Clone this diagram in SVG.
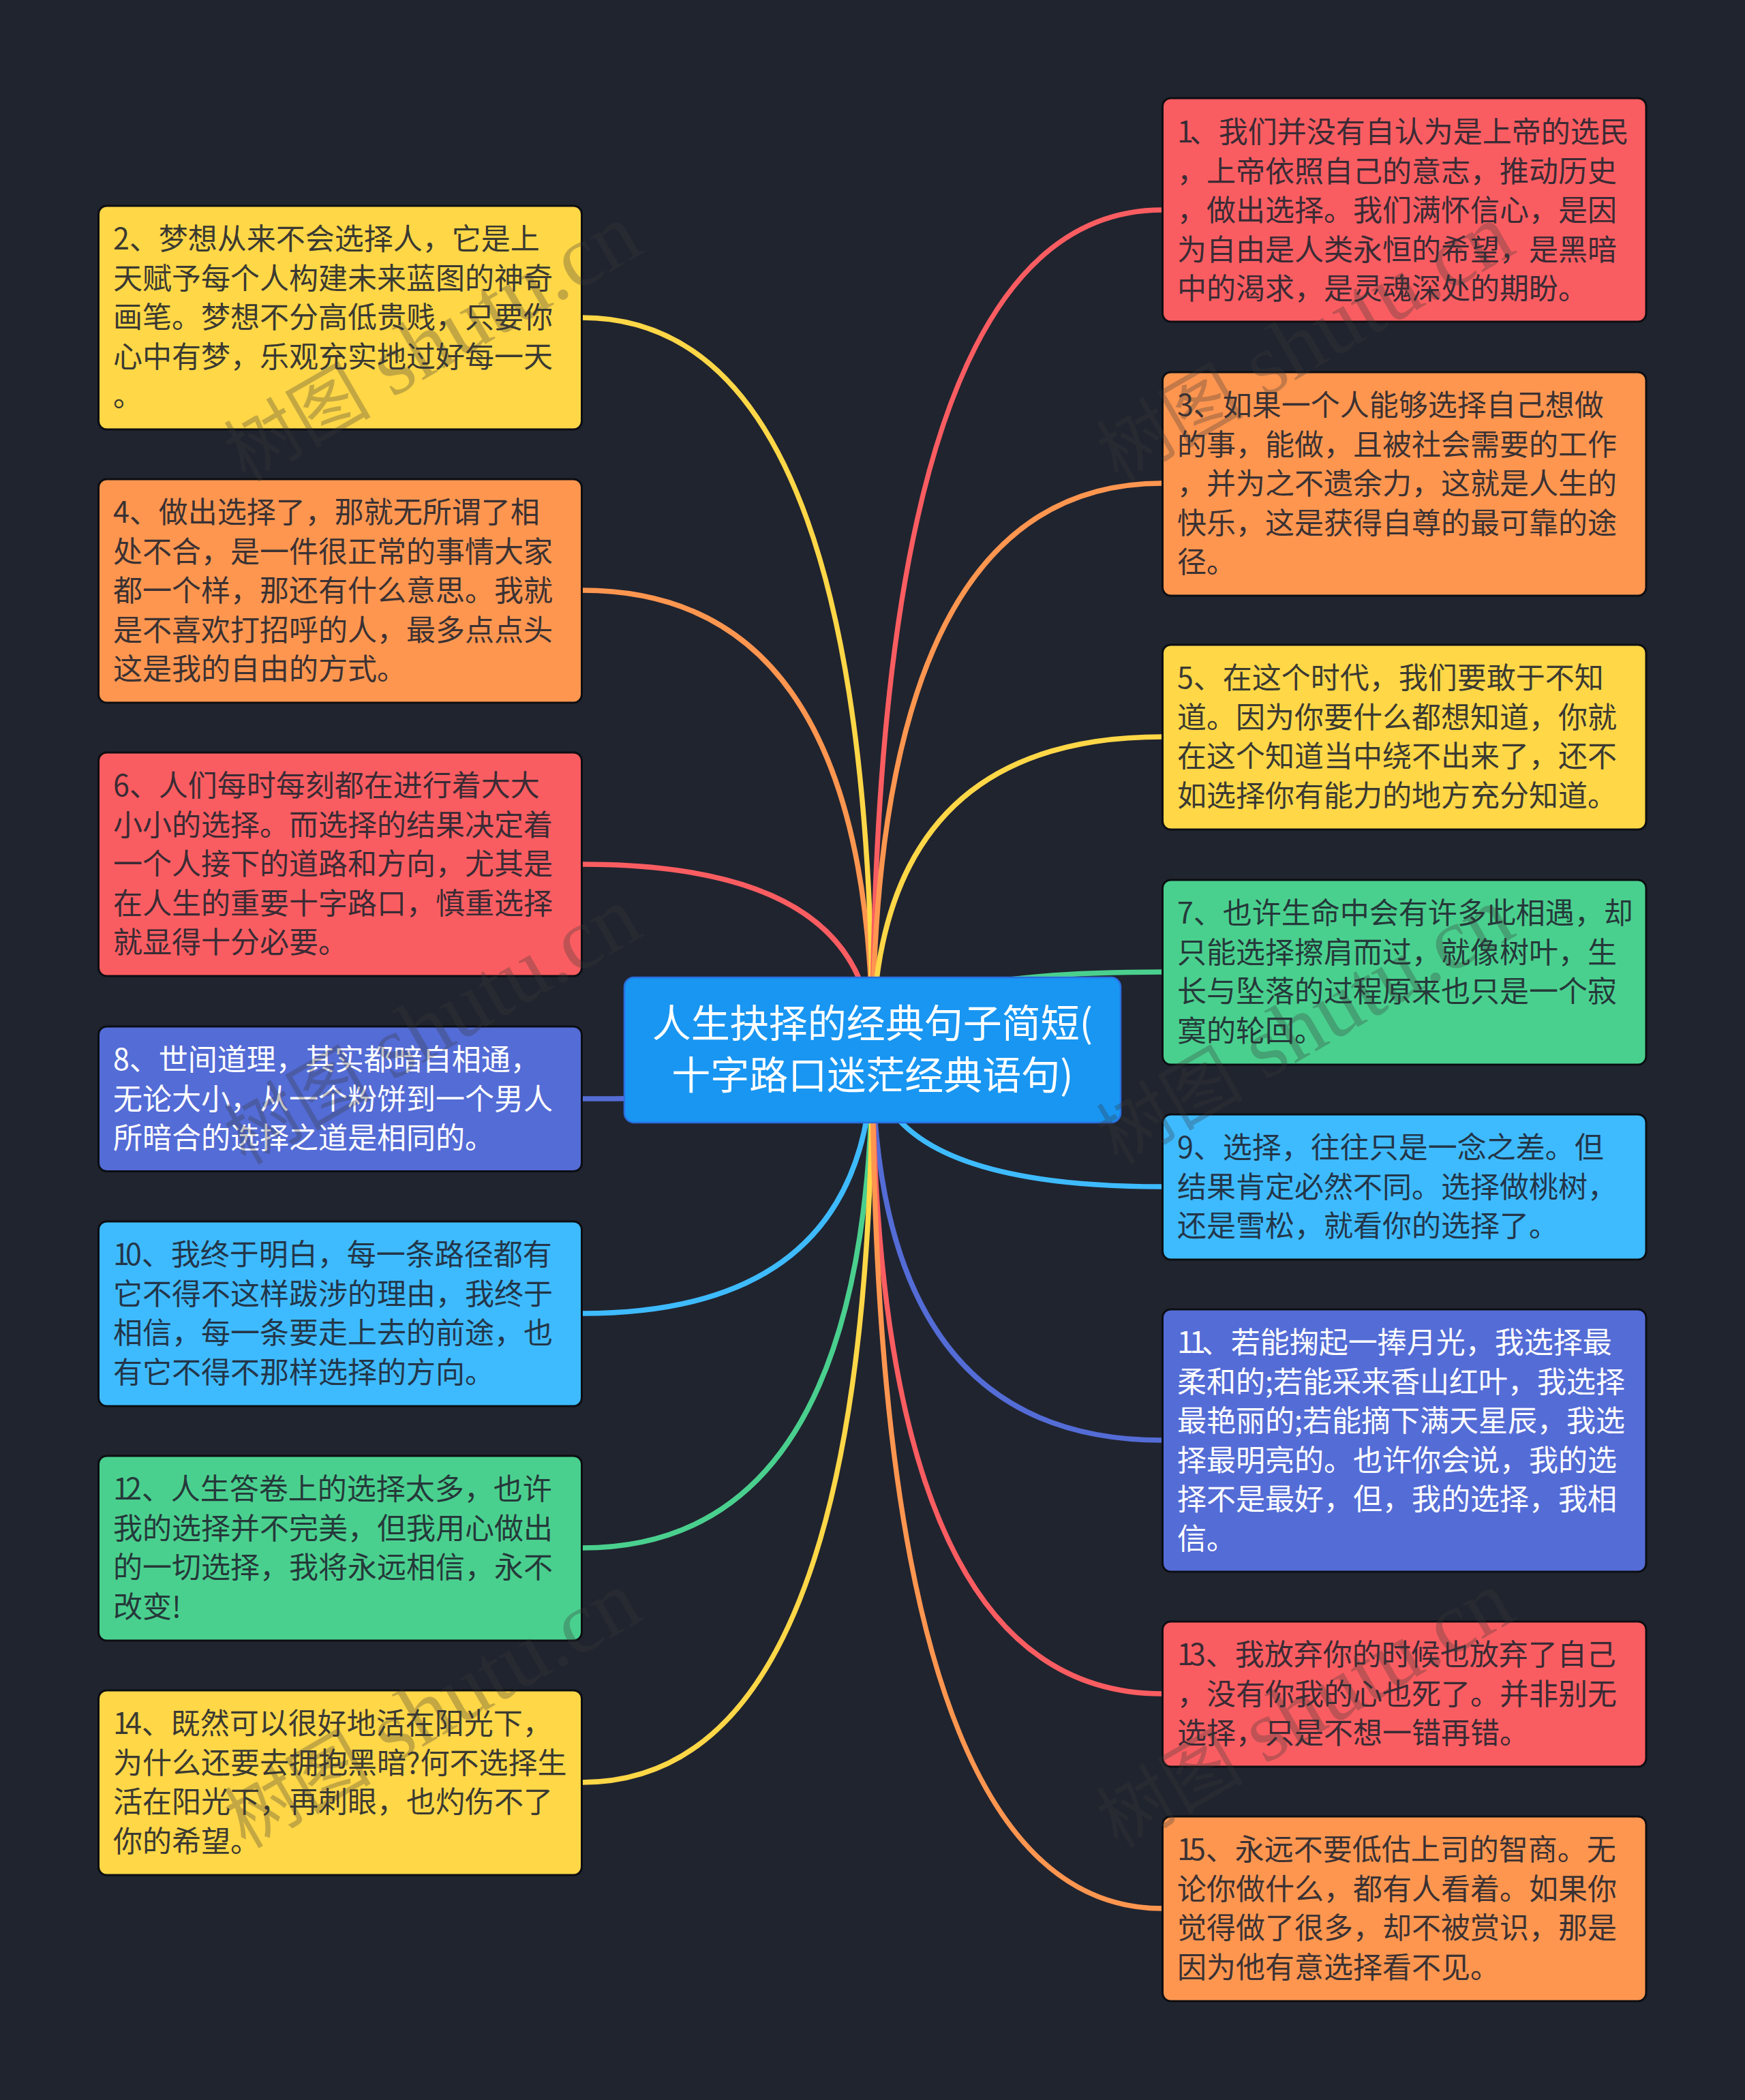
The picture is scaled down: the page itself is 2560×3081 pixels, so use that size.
<svg xmlns="http://www.w3.org/2000/svg" width="2560" height="3081" viewBox="0 0 2560 3081">
<style>
.bx{stroke:#0c0e13;stroke-width:3}
.t{font-family:"Noto Sans CJK SC","Noto Sans",sans-serif;font-size:43px;fill:#20242f;fill-opacity:.9}
.w{fill:#fff;fill-opacity:1}
.c{font-family:"Noto Sans CJK SC","Noto Sans",sans-serif;font-size:57px;fill:#fff;text-anchor:middle}
.y{fill:#ffd747}.o{fill:#ff9650}.r{fill:#fa5d61}.p{fill:#546cd6}.s{fill:#3ebbff}.g{fill:#4ad08e}
#connectors path{fill:none;stroke-width:7.500}
.wm{font-family:"Liberation Serif","Noto Sans CJK SC",serif;font-size:128px;fill:#383838;fill-opacity:.3}
.wc{font-family:"Noto Sans CJK SC",serif;font-size:108px}
</style>
<rect width="2560" height="3081" fill="#20242f"/>
<g id="connectors">
<path stroke="#fa5d61" d="M1280 1540Q1280 1268 854 1268"/>
<path stroke="#ff9650" d="M1280 1540Q1280 866 854 866"/>
<path stroke="#ffd747" d="M1280 1540Q1280 466 854 466"/>
<path stroke="#fa5d61" d="M1280 1540Q1280 308 1705 308"/>
<path stroke="#ff9650" d="M1280 1540Q1280 709 1705 709"/>
<path stroke="#ffd747" d="M1280 1540Q1280 1081 1705 1081"/>
<path stroke="#4ad08e" d="M1280 1540Q1280 1426 1705 1426"/>
<path stroke="#546cd6" d="M1280 1540Q1280 1612 854 1612"/>
<path stroke="#3ebbff" d="M1280 1540Q1280 1741 1705 1741"/>
<path stroke="#3ebbff" d="M1280 1540Q1280 1927 854 1927"/>
<path stroke="#546cd6" d="M1280 1540Q1280 2113 1705 2113"/>
<path stroke="#fa5d61" d="M1280 1540Q1280 2485 1705 2485"/>
<path stroke="#4ad08e" d="M1280 1540Q1280 2271 854 2271"/>
<path stroke="#ffd747" d="M1280 1540Q1280 2615 854 2615"/>
<path stroke="#ff9650" d="M1280 1540Q1280 2800 1705 2800"/>
</g>
<g id="n1"><rect class="bx r" x="1705.500" y="144" width="709.500" height="328" rx="12"/><text class="t" y="209"><tspan x="1727" dx="0 -6">1、我们并没有自认为是上帝的选民</tspan><tspan x="1727" dy="57.6">，上帝依照自己的意志，推动历史</tspan><tspan x="1727" dy="57.6">，做出选择。我们满怀信心，是因</tspan><tspan x="1727" dy="57.6">为自由是人类永恒的希望，是黑暗</tspan><tspan x="1727" dy="57.6">中的渴求，是灵魂深处的期盼。</tspan></text></g>
<g id="n3"><rect class="bx o" x="1705.500" y="546" width="709.500" height="328" rx="12"/><text class="t" y="610"><tspan x="1727">3、如果一个人能够选择自己想做</tspan><tspan x="1727" dy="57.6">的事，能做，且被社会需要的工作</tspan><tspan x="1727" dy="57.6">，并为之不遗余力，这就是人生的</tspan><tspan x="1727" dy="57.6">快乐，这是获得自尊的最可靠的途</tspan><tspan x="1727" dy="57.6">径。</tspan></text></g>
<g id="n5"><rect class="bx y" x="1705.500" y="946" width="709.500" height="271" rx="12"/><text class="t" y="1010"><tspan x="1727">5、在这个时代，我们要敢于不知</tspan><tspan x="1727" dy="57.6">道。因为你要什么都想知道，你就</tspan><tspan x="1727" dy="57.6">在这个知道当中绕不出来了，还不</tspan><tspan x="1727" dy="57.6">如选择你有能力的地方充分知道。</tspan></text></g>
<g id="n7"><rect class="bx g" x="1705.500" y="1291" width="709.500" height="271" rx="12"/><text class="t" y="1355"><tspan x="1727">7、也许生命中会有许多此相遇，却</tspan><tspan x="1727" dy="57.6">只能选择擦肩而过，就像树叶，生</tspan><tspan x="1727" dy="57.6">长与坠落的过程原来也只是一个寂</tspan><tspan x="1727" dy="57.6">寞的轮回。</tspan></text></g>
<g id="n9"><rect class="bx s" x="1705.500" y="1635" width="709.500" height="213" rx="12"/><text class="t" y="1699"><tspan x="1727">9、选择，往往只是一念之差。但</tspan><tspan x="1727" dy="57.6">结果肯定必然不同。选择做桃树，</tspan><tspan x="1727" dy="57.6">还是雪松，就看你的选择了。</tspan></text></g>
<g id="n11"><rect class="bx p" x="1705.500" y="1921" width="709.500" height="385" rx="12"/><text class="t w" y="1985"><tspan x="1727" dx="0 -6 -6">11、若能掬起一捧月光，我选择最</tspan><tspan x="1727" dy="57.6">柔和的;若能采来香山红叶，我选择</tspan><tspan x="1727" dy="57.6">最艳丽的;若能摘下满天星辰，我选</tspan><tspan x="1727" dy="57.6">择最明亮的。也许你会说，我的选</tspan><tspan x="1727" dy="57.6">择不是最好，但，我的选择，我相</tspan><tspan x="1727" dy="57.6">信。</tspan></text></g>
<g id="n13"><rect class="bx r" x="1705.500" y="2379" width="709.500" height="213" rx="12"/><text class="t" y="2443"><tspan x="1727" dx="0 -6">13、我放弃你的时候也放弃了自己</tspan><tspan x="1727" dy="57.6">，没有你我的心也死了。并非别无</tspan><tspan x="1727" dy="57.6">选择，只是不想一错再错。</tspan></text></g>
<g id="n15"><rect class="bx o" x="1705.500" y="2665" width="709.500" height="271" rx="12"/><text class="t" y="2729"><tspan x="1727" dx="0 -6">15、永远不要低估上司的智商。无</tspan><tspan x="1727" dy="57.6">论你做什么，都有人看着。如果你</tspan><tspan x="1727" dy="57.6">觉得做了很多，却不被赏识，那是</tspan><tspan x="1727" dy="57.6">因为他有意选择看不见。</tspan></text></g>
<g id="n2"><rect class="bx y" x="144.500" y="302" width="709" height="328" rx="12"/><text class="t" y="366"><tspan x="166">2、梦想从来不会选择人，它是上</tspan><tspan x="166" dy="57.6">天赋予每个人构建未来蓝图的神奇</tspan><tspan x="166" dy="57.6">画笔。梦想不分高低贵贱，只要你</tspan><tspan x="166" dy="57.6">心中有梦，乐观充实地过好每一天</tspan><tspan x="166" dy="57.6">。</tspan></text></g>
<g id="n4"><rect class="bx o" x="144.500" y="703" width="709" height="328" rx="12"/><text class="t" y="767"><tspan x="166">4、做出选择了，那就无所谓了相</tspan><tspan x="166" dy="57.6">处不合，是一件很正常的事情大家</tspan><tspan x="166" dy="57.6">都一个样，那还有什么意思。我就</tspan><tspan x="166" dy="57.6">是不喜欢打招呼的人，最多点点头</tspan><tspan x="166" dy="57.6">这是我的自由的方式。</tspan></text></g>
<g id="n6"><rect class="bx r" x="144.500" y="1104" width="709" height="328" rx="12"/><text class="t" y="1168"><tspan x="166">6、人们每时每刻都在进行着大大</tspan><tspan x="166" dy="57.6">小小的选择。而选择的结果决定着</tspan><tspan x="166" dy="57.6">一个人接下的道路和方向，尤其是</tspan><tspan x="166" dy="57.6">在人生的重要十字路口，慎重选择</tspan><tspan x="166" dy="57.6">就显得十分必要。</tspan></text></g>
<g id="n8"><rect class="bx p" x="144.500" y="1506" width="709" height="212.500" rx="12"/><text class="t w" y="1570"><tspan x="166">8、世间道理，其实都暗自相通，</tspan><tspan x="166" dy="57.6">无论大小，从一个粉饼到一个男人</tspan><tspan x="166" dy="57.6">所暗合的选择之道是相同的。</tspan></text></g>
<g id="n10"><rect class="bx s" x="144.500" y="1792" width="709" height="271" rx="12"/><text class="t" y="1856"><tspan x="166" dx="0 -6">10、我终于明白，每一条路径都有</tspan><tspan x="166" dy="57.6">它不得不这样跋涉的理由，我终于</tspan><tspan x="166" dy="57.6">相信，每一条要走上去的前途，也</tspan><tspan x="166" dy="57.6">有它不得不那样选择的方向。</tspan></text></g>
<g id="n12"><rect class="bx g" x="144.500" y="2136" width="709" height="271" rx="12"/><text class="t" y="2200"><tspan x="166" dx="0 -6">12、人生答卷上的选择太多，也许</tspan><tspan x="166" dy="57.6">我的选择并不完美，但我用心做出</tspan><tspan x="166" dy="57.6">的一切选择，我将永远相信，永不</tspan><tspan x="166" dy="57.6">改变!</tspan></text></g>
<g id="n14"><rect class="bx y" x="144.500" y="2480" width="709" height="271" rx="12"/><text class="t" y="2544"><tspan x="166" dx="0 -6">14、既然可以很好地活在阳光下，</tspan><tspan x="166" dy="57.6">为什么还要去拥抱黑暗?何不选择生</tspan><tspan x="166" dy="57.6">活在阳光下，再刺眼，也灼伤不了</tspan><tspan x="166" dy="57.6">你的希望。</tspan></text></g>
<g id="root"><rect x="916" y="1434" width="728" height="213" rx="14" fill="#1896f2" stroke="#2a6fe0" stroke-width="2.500"/><text class="c" y="1522"><tspan x="1280">人生抉择的经典句子简短(</tspan><tspan x="1280" dy="76">十字路口迷茫经典语句)</tspan></text></g>
<g id="watermarks">
<text class="wm" transform="translate(360 708) rotate(-30)"><tspan class="wc">树图</tspan> shutu.cn</text>
<text class="wm" transform="translate(1640 708) rotate(-30)"><tspan class="wc">树图</tspan> shutu.cn</text>
<text class="wm" transform="translate(360 1710) rotate(-30)"><tspan class="wc">树图</tspan> shutu.cn</text>
<text class="wm" transform="translate(1640 1710) rotate(-30)"><tspan class="wc">树图</tspan> shutu.cn</text>
<text class="wm" transform="translate(360 2713) rotate(-30)"><tspan class="wc">树图</tspan> shutu.cn</text>
<text class="wm" transform="translate(1640 2713) rotate(-30)"><tspan class="wc">树图</tspan> shutu.cn</text>
</g>
</svg>
